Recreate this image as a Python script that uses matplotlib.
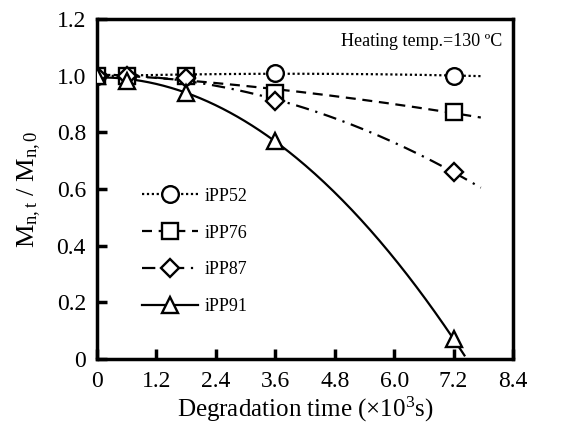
import numpy as np
import matplotlib
matplotlib.use("Agg")
import matplotlib.pyplot as plt

plt.rcParams['font.family'] = ['Liberation Serif', 'DejaVu Serif']
plt.rcParams['mathtext.fontset'] = 'custom'
plt.rcParams['mathtext.rm'] = 'Liberation Serif'
plt.rcParams['mathtext.it'] = 'Liberation Serif:italic'

# Degradation time (x10^3 s) and normalised molecular weight Mn,t/Mn,0
time = [0.0, 0.6, 1.8, 3.6, 7.2]
ipp52 = [1.00, 1.00, 1.00, 1.01, 1.00]
ipp76 = [1.00, 1.00, 1.00, 0.94, 0.87]
ipp87 = [1.00, 1.00, 0.99, 0.91, 0.66]
ipp91 = [1.00, 0.98, 0.94, 0.77, 0.07]

# name, values, marker, marker size, dash pattern, end of trend line
series = [
    ("iPP52", ipp52, 'o', 12, (0, (1, 1.2)), 7.75),
    ("iPP76", ipp76, 's', 12, (0, (4.5, 3)), 7.75),
    ("iPP87", ipp87, 'D', 9, (0, (6, 3, 1, 3)), 7.75),
    ("iPP91", ipp91, '^', 12, '-', 7.42),
]

xticks = [0, 1.2, 2.4, 3.6, 4.8, 6.0, 7.2, 8.4]
xticklabels = ["0", "1.2", "2.4", "3.6", "4.8", "6.0", "7.2", "8.4"]
yticks = [0, 0.2, 0.4, 0.6, 0.8, 1.0, 1.2]
yticklabels = ["0", "0.2", "0.4", "0.6", "0.8", "1.0", "1.2"]

fig = plt.figure(figsize=(5.62, 4.25), dpi=100)
ax = fig.add_axes([0.1726, 0.1553, 0.7402, 0.8000])

handles = []
for name, vals, mk, ms, ls, tend in series:
    # second-order polynomial trend line through each series
    coef = np.polyfit(time, vals, 2)
    tt = np.linspace(0, tend, 200)
    ax.plot(tt, np.polyval(coef, tt), color='black', ls=ls, lw=1.6, zorder=2)
    ax.plot(time, vals, ls='none', marker=mk, ms=ms,
            mfc='white', mec='black', mew=1.7, zorder=3)
    h, = ax.plot([], [], color='black', ls=ls, lw=1.6, marker=mk, ms=ms,
                 mfc='white', mec='black', mew=1.7)
    handles.append((h, name))

ax.set_xlim(0, 8.4)
ax.set_ylim(0, 1.2)
ax.set_xticks(xticks)
ax.set_xticklabels(xticklabels)
ax.set_yticks(yticks)
ax.set_yticklabels(yticklabels)
ax.tick_params(direction='in', length=7, width=2.5, labelsize=17)
ax.tick_params(axis='x', pad=9)
ax.tick_params(axis='y', pad=8)
for s in ax.spines.values():
    s.set_linewidth(2.5)

ax.set_xlabel(r"Degradation time ($\times$10$^{3}$s)", fontsize=18, labelpad=2)
ax.set_ylabel(r"M$_{\rm n,t}$ / M$_{\rm n,0}$", fontsize=19, labelpad=10)

ax.text(0.975, 0.935, "Heating temp.=130 ºC", transform=ax.transAxes,
        ha='right', va='center', fontsize=13)

ax.legend([h for h, _ in handles], [n for _, n in handles],
          loc='upper left', bbox_to_anchor=(0.09, 0.525), frameon=False,
          fontsize=13, handlelength=3.1, labelspacing=1.1, numpoints=1,
          handletextpad=0.4, borderaxespad=0)

fig.savefig("out.png", dpi=100)
